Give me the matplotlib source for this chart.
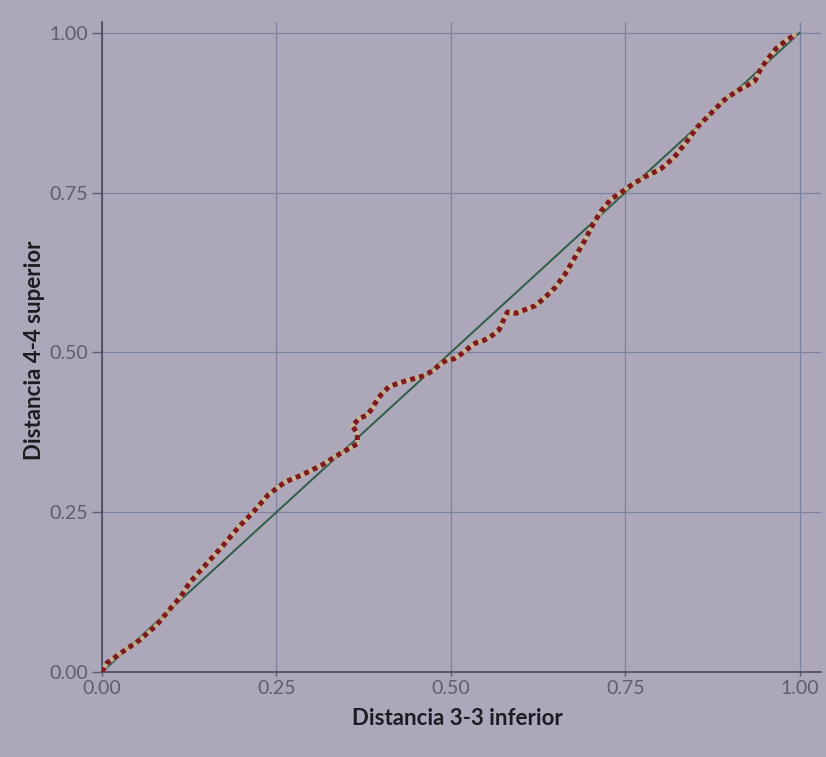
import matplotlib.pyplot as plt

# curve (x = lower 3-3 distance, y = upper 4-4 distance)
dist_inf = [0.0, 0.007, 0.030, 0.054, 0.078, 0.097, 0.113, 0.125, 0.148, 0.172,
            0.196, 0.215, 0.238, 0.262, 0.286, 0.314, 0.342, 0.366, 0.366, 0.359,
            0.368, 0.380, 0.387, 0.394, 0.401, 0.411, 0.423, 0.437, 0.451, 0.463,
            0.475, 0.484, 0.494, 0.505, 0.517, 0.527, 0.536, 0.548, 0.560, 0.569,
            0.574, 0.581, 0.593, 0.607, 0.621, 0.635, 0.650, 0.664, 0.678, 0.692,
            0.704, 0.716, 0.730, 0.744, 0.758, 0.777, 0.801, 0.820, 0.839, 0.853,
            0.872, 0.891, 0.910, 0.924, 0.936, 0.943, 0.952, 0.966, 0.981, 0.995]
dist_sup = [0.0, 0.014, 0.032, 0.050, 0.073, 0.098, 0.118, 0.139, 0.167, 0.196,
            0.227, 0.248, 0.277, 0.297, 0.308, 0.323, 0.342, 0.357, 0.373, 0.385,
            0.396, 0.402, 0.412, 0.425, 0.435, 0.446, 0.451, 0.456, 0.460, 0.464,
            0.472, 0.481, 0.488, 0.490, 0.499, 0.508, 0.515, 0.519, 0.527, 0.535,
            0.547, 0.563, 0.561, 0.567, 0.573, 0.586, 0.602, 0.623, 0.649, 0.675,
            0.701, 0.722, 0.740, 0.750, 0.761, 0.774, 0.787, 0.805, 0.831, 0.852,
            0.873, 0.894, 0.909, 0.917, 0.925, 0.941, 0.956, 0.975, 0.988, 0.998]
ref_line = [0.0, 1.0]
ticks = [0.0, 0.25, 0.5, 0.75, 1.0]
tick_labels = ["0.00", "0.25", "0.50", "0.75", "1.00"]

bg = "#aca7b9"
fig = plt.figure(figsize=(8.26, 7.57), dpi=100, facecolor=bg)
ax = fig.add_axes([0.1235, 0.1123, 0.87, 0.858], facecolor=bg)

ax.plot(ref_line, ref_line, color="#2f5d45", lw=1.4, zorder=3)
# pale halo under the dotted red line
ax.plot(dist_inf, dist_sup, color="#cdb88e", lw=3.6, alpha=0.75,
        solid_capstyle="butt", zorder=4)
ax.plot(dist_inf, dist_sup, color="#7e1a1f", lw=3.6, linestyle=(0, (1, 0.85)),
        dash_capstyle="butt", zorder=5)

ax.set_xlim(0, 1.03)
ax.set_ylim(0, 1.016)
ax.set_xticks(ticks)
ax.set_xticklabels(tick_labels)
ax.set_yticks(ticks)
ax.set_yticklabels(tick_labels)
ax.grid(True, color="#7d82a3", lw=0.9)
ax.set_axisbelow(True)

for s in ["top", "right"]:
    ax.spines[s].set_visible(False)
for s in ["left", "bottom"]:
    ax.spines[s].set_color("#4b4a5c")
    ax.spines[s].set_linewidth(1.2)

ax.tick_params(axis="y", length=7, width=1, color="#5c5a6c", pad=3,
               labelsize=14, labelcolor="#625d6b")
ax.tick_params(axis="x", length=3, width=1, color="#5c5a6c", pad=3,
               labelsize=14, labelcolor="#625d6b")
for lab in ax.get_xticklabels() + ax.get_yticklabels():
    lab.set_family("Lato")

ax.set_xlabel("Distancia 3-3 inferior", fontsize=16, fontweight="bold",
              family="Lato", color="#1e1b22")
ax.set_ylabel("Distancia 4-4 superior", fontsize=16, fontweight="bold",
              family="Lato", color="#1e1b22")
ax.xaxis.set_label_coords(0.495, -0.055)
ax.yaxis.set_label_coords(-0.08, 0.495)

fig.savefig("out.png", dpi=100, facecolor=bg)
